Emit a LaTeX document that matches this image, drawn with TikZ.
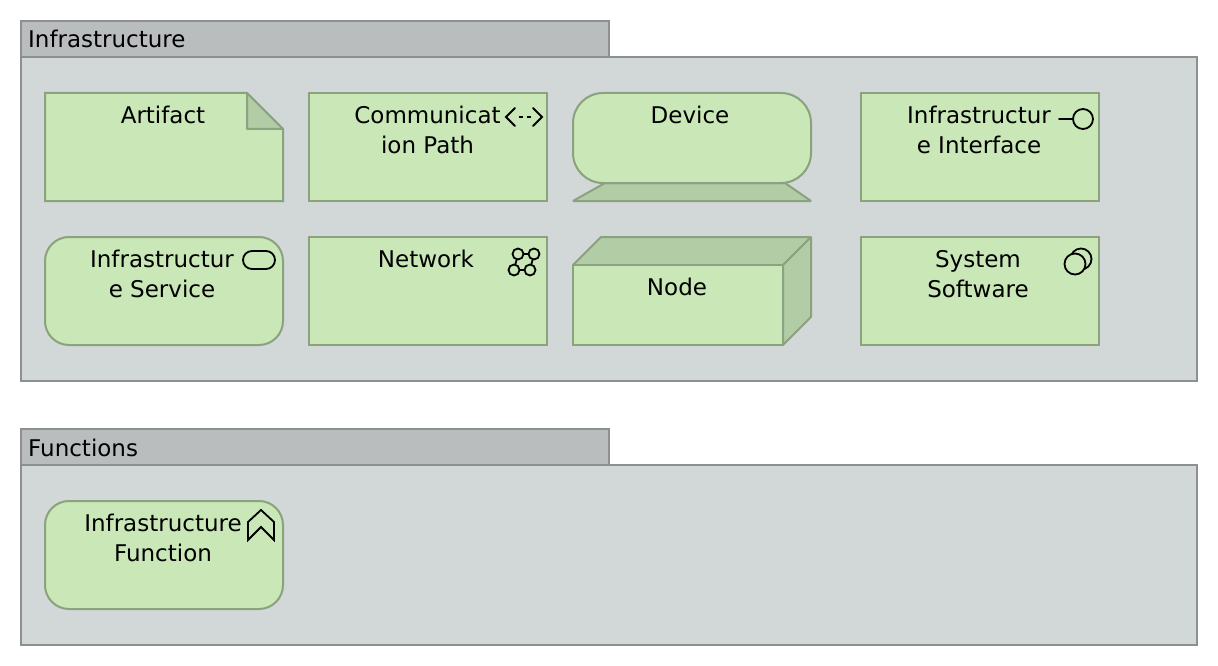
\documentclass[tikz,border=0pt]{standalone}
\usepackage{fontspec}
\setmainfont{DejaVu Sans}
\definecolor{elemfill}{HTML}{C9E7B7}
\definecolor{elemdark}{HTML}{B2CDA5}
\definecolor{elemline}{HTML}{8AA27E}
\definecolor{grpfill}{HTML}{D2D7D7}
\definecolor{tabfill}{HTML}{BABDBE}
\definecolor{grpline}{HTML}{8C9090}
\newcommand{\fl}{\rule{0pt}{18pt}}
\tikzset{
  grp/.style={draw=grpline,fill=grpfill,line width=2pt},
  tabbox/.style={draw=grpline,fill=tabfill,line width=2pt},
  elem/.style={draw=elemline,fill=elemfill,line width=2pt,line join=miter},
  dark/.style={draw=elemline,fill=elemdark,line width=2pt,line join=bevel},
  lab/.style={anchor=north,inner sep=0pt,align=center,text=black,font=\fontsize{23}{30}\selectfont},
  tablab/.style={anchor=base west,inner sep=0pt,text=black,font=\fontsize{23}{30}\selectfont},
  icon/.style={draw=black,line width=1.8pt,line cap=round,line join=miter}
}
\begin{document}
\begin{tikzpicture}[x=1pt,y=-1pt]
\useasboundingbox (0,0) rectangle (1218,666);
\fill[white] (0,0) rectangle (1218,666);
% groups
\draw[grp] (21,57) rectangle (1197,381);
\draw[tabbox] (21,21) rectangle (609,57);
\node[tablab] (infra) at (28,48) {Infrastructure};
\draw[grp] (21,465) rectangle (1197,645);
\draw[tabbox] (21,429) rectangle (609,465);
\node[tablab] (funcs) at (28,456) {Functions};
% Artifact
\draw[elem] (45,93) -- (247,93) -- (283,129) -- (283,201) -- (45,201) -- cycle;
\draw[dark] (247,93) -- (283,129) -- (247,129) -- cycle;
\node[lab] (artifact) at (163,105) {\fl Artifact};
% Communication Path
\draw[elem] (309,93) rectangle (547,201);
\node[lab] (comm) at (427.5,105) {\fl Communicat\\ion Path};
\draw[icon] (515,108) -- (506,117) -- (515,126);
\draw[icon] (533,108) -- (542,117) -- (533,126);
\draw[icon,line cap=butt] (518.5,117) -- (522.5,117) (527,117) -- (531,117);
% Device
\draw[dark] (605,183) -- (573,201) -- (811,201) -- (785,183) -- cycle;
\draw[elem,rounded corners=30pt] (573,93) rectangle (811,183);
\node[lab] (device) at (690,105) {\fl Device};
% Infrastructure Interface
\draw[elem] (861,93) rectangle (1099,201);
\node[lab] (iface) at (979,105) {\fl Infrastructur\\e Interface};
\draw[icon] (1059,119) -- (1073,119);
\draw[icon] (1083,119) circle (10pt);
% Infrastructure Service
\draw[elem,rounded corners=24pt] (45,237) rectangle (283,345);
\node[lab] (service) at (162,249) {\fl Infrastructur\\e Service};
\draw[icon,rounded corners=9pt] (243,251) rectangle (275,269);
% Network
\draw[elem] (309,237) rectangle (547,345);
\node[lab] (network) at (426,249) {\fl Network};
\draw[icon] (518,254) -- (534,254) -- (530,270) -- (514,270) -- cycle;
\foreach \cx/\cy in {518/254,534/254,514/270,530/270}
  \draw[icon,fill=elemfill] (\cx,\cy) circle (5.5pt);
% Node
\draw[dark] (573,265) -- (601,237) -- (811,237) -- (783,265) -- cycle;
\draw[dark] (783,265) -- (811,237) -- (811,317) -- (783,345) -- cycle;
\draw[elem] (573,265) rectangle (783,345);
\node[lab] (nodebox) at (677,277) {\fl Node};
% System Software
\draw[elem] (861,237) rectangle (1099,345);
\node[lab] (syssoft) at (978,249) {\fl System\\Software};
\draw[icon] (1081,259) circle (10.5pt);
\draw[icon,fill=elemfill] (1075,264) circle (10.5pt);
% Infrastructure Function
\draw[elem,rounded corners=24pt] (45,501) rectangle (283,609);
\node[lab] (func) at (163,513) {\fl Infrastructure\\Function};
\draw[icon] (261,510) -- (274,522) -- (274,540) -- (261,527) -- (248,540) -- (248,522) -- cycle;
\end{tikzpicture}
\end{document}
